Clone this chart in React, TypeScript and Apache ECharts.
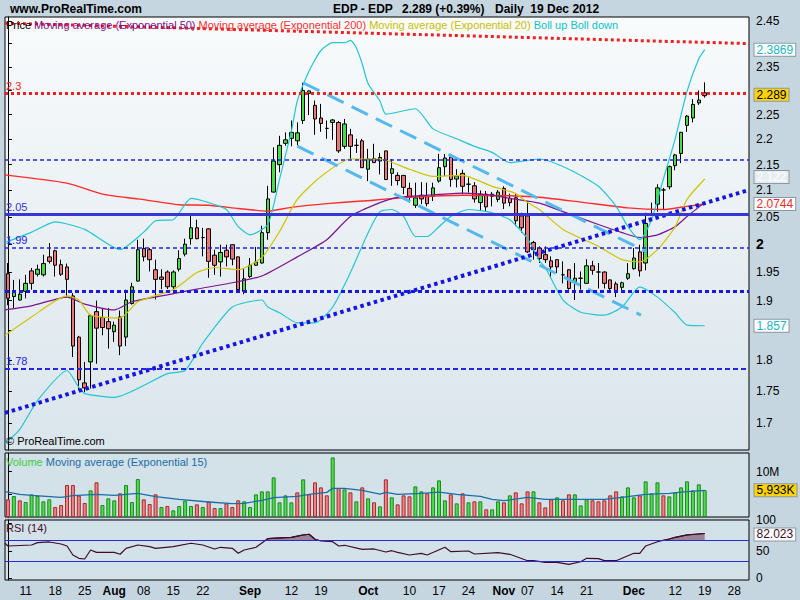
import React, { useEffect, useRef } from 'react';
import * as echarts from 'echarts';

const FONT = '"Liberation Sans", Arial, Helvetica, sans-serif';

// ---- Daily candles, EDP, 6 Jul 2012 .. 19 Dec 2012 (119 sessions) ----
const opens = [
  1.947, 1.907, 1.901, 1.916, 1.952, 1.946, 1.945, 1.977, 1.988, 1.963,
  1.959, 1.908, 1.838, 1.763, 1.797, 1.881, 1.871, 1.864, 1.847, 1.872,
  1.838, 1.895, 1.934, 1.992, 1.990, 1.954, 1.941, 1.950, 1.924, 1.955,
  1.982, 2.010, 2.030, 2.012, 2.028, 1.980, 1.968, 1.989, 1.999, 1.977,
  1.916, 1.942, 1.962, 1.966, 2.021, 2.097, 2.150, 2.192, 2.202, 2.197,
  2.238, 2.294, 2.269, 2.243, 2.222, 2.234, 2.234, 2.186, 2.209, 2.188,
  2.197, 2.141, 2.162, 2.157, 2.177, 2.133, 2.129, 2.129, 2.104, 2.072,
  2.091, 2.089, 2.089, 2.118, 2.146, 2.165, 2.122, 2.133, 2.112, 2.109,
  2.077, 2.093, 2.093, 2.083, 2.104, 2.085, 2.086, 2.052, 2.052, 2.003,
  1.993, 1.981, 1.970, 1.972, 1.945, 1.954, 1.933, 1.939, 1.930, 1.961,
  1.950, 1.950, 1.936, 1.929, 1.923, 1.939, 1.956, 1.986, 1.966, 2.055,
  2.074, 2.101, 2.107, 2.148, 2.172, 2.228, 2.243, 2.274, 2.295,
];
const highs = [
  1.966, 1.936, 1.937, 1.945, 1.957, 1.963, 1.981, 2.002, 1.990, 1.972,
  1.965, 1.913, 1.840, 1.797, 1.876, 1.900, 1.887, 1.887, 1.864, 1.883,
  1.919, 1.931, 2.008, 2.010, 1.993, 1.972, 1.955, 1.953, 1.953, 1.989,
  2.010, 2.055, 2.045, 2.030, 2.029, 1.990, 1.999, 1.999, 2.000, 1.978,
  1.956, 1.975, 1.995, 2.034, 2.109, 2.184, 2.207, 2.214, 2.238, 2.234,
  2.316, 2.300, 2.279, 2.272, 2.238, 2.241, 2.237, 2.241, 2.221, 2.201,
  2.201, 2.181, 2.191, 2.173, 2.177, 2.161, 2.135, 2.129, 2.115, 2.115,
  2.116, 2.115, 2.115, 2.171, 2.171, 2.165, 2.141, 2.140, 2.125, 2.116,
  2.100, 2.099, 2.097, 2.101, 2.108, 2.094, 2.093, 2.058, 2.080, 2.006,
  1.996, 1.996, 1.978, 1.972, 1.969, 1.955, 1.966, 1.951, 1.973, 1.970,
  1.966, 1.951, 1.937, 1.933, 1.933, 1.966, 1.993, 1.999, 2.058, 2.077,
  2.112, 2.105, 2.148, 2.171, 2.215, 2.249, 2.282, 2.300, 2.317,
];
const lows = [
  1.892, 1.887, 1.900, 1.904, 1.919, 1.942, 1.942, 1.965, 1.942, 1.943,
  1.907, 1.805, 1.751, 1.748, 1.754, 1.794, 1.841, 1.819, 1.830, 1.808,
  1.823, 1.893, 1.933, 1.969, 1.951, 1.902, 1.920, 1.920, 1.920, 1.951,
  1.978, 1.999, 2.009, 1.978, 1.940, 1.945, 1.942, 1.960, 1.962, 1.918,
  1.911, 1.939, 1.961, 1.965, 2.008, 2.096, 2.135, 2.187, 2.186, 2.188,
  2.231, 2.249, 2.209, 2.215, 2.201, 2.199, 2.173, 2.181, 2.161, 2.173,
  2.144, 2.118, 2.153, 2.131, 2.120, 2.109, 2.110, 2.093, 2.077, 2.067,
  2.074, 2.070, 2.080, 2.115, 2.128, 2.107, 2.106, 2.093, 2.096, 2.077,
  2.061, 2.061, 2.070, 2.078, 2.065, 2.070, 2.033, 2.021, 1.984, 1.972,
  1.966, 1.966, 1.939, 1.948, 1.930, 1.919, 1.901, 1.919, 1.930, 1.945,
  1.921, 1.921, 1.913, 1.906, 1.917, 1.936, 1.954, 1.942, 1.953, 2.052,
  2.060, 2.064, 2.102, 2.139, 2.153, 2.215, 2.234, 2.270, 2.285,
];
const closes = [
  1.904, 1.915, 1.911, 1.930, 1.930, 1.955, 1.965, 1.969, 1.962, 1.946,
  1.937, 1.823, 1.768, 1.755, 1.874, 1.853, 1.854, 1.852, 1.858, 1.823,
  1.901, 1.924, 1.990, 1.977, 1.972, 1.937, 1.937, 1.924, 1.950, 1.974,
  2.000, 2.030, 2.010, 2.012, 1.969, 1.962, 1.985, 1.977, 1.973, 1.919,
  1.938, 1.962, 1.968, 2.021, 2.084, 2.157, 2.188, 2.199, 2.214, 2.213,
  2.300, 2.299, 2.241, 2.232, 2.222, 2.239, 2.177, 2.231, 2.186, 2.188,
  2.144, 2.161, 2.154, 2.164, 2.121, 2.142, 2.119, 2.106, 2.087, 2.086,
  2.084, 2.075, 2.105, 2.144, 2.163, 2.121, 2.128, 2.108, 2.112, 2.084,
  2.093, 2.069, 2.089, 2.097, 2.076, 2.077, 2.043, 2.030, 1.986, 1.990,
  1.974, 1.972, 1.959, 1.959, 1.945, 1.921, 1.939, 1.939, 1.961, 1.953,
  1.950, 1.930, 1.921, 1.917, 1.931, 1.947, 1.975, 1.952, 2.038, 2.055,
  2.105, 2.101, 2.146, 2.169, 2.214, 2.247, 2.271, 2.280, 2.289,
];

// Volume in millions, and the colour of each volume bar (G up / R down)
const volumesM = [
  3.90, 4.63, 3.68, 3.31, 5.00, 4.63, 3.46, 3.90, 2.21, 2.65,
  7.06, 7.06, 4.71, 3.09, 5.88, 7.65, 2.65, 4.12, 3.68, 5.22,
  7.06, 3.31, 8.38, 3.90, 2.87, 5.00, 2.21, 2.43, 1.47, 2.43,
  3.60, 2.43, 2.79, 2.21, 3.46, 1.99, 1.99, 3.01, 2.21, 3.68,
  3.46, 2.21, 5.00, 5.66, 5.66, 8.75, 3.24, 4.78, 3.24, 5.44,
  8.31, 5.00, 7.65, 6.54, 4.78, 13.16, 6.40, 6.10, 5.44, 3.46,
  6.54, 4.12, 3.24, 2.35, 8.31, 4.34, 2.79, 4.78, 4.56, 6.76,
  5.66, 5.22, 6.54, 8.09, 3.68, 5.00, 3.01, 5.22, 3.24, 3.46,
  3.46, 1.69, 1.69, 3.46, 3.24, 4.78, 5.44, 3.01, 5.66, 5.66,
  3.24, 2.13, 3.90, 4.34, 3.68, 5.00, 5.00, 2.57, 3.90, 3.68,
  3.46, 3.68, 4.78, 5.66, 4.56, 6.54, 4.34, 4.78, 7.87, 5.22,
  7.65, 4.78, 4.56, 5.44, 6.54, 7.87, 5.88, 7.21, 5.933,
];
const volumeDir =
  'RGRGGGGGRRRRRRGRGGGRGGGRRRGRGGGGRGRRGRRRG' +
  'GGGGGGGGRG' + 'RRRRGRGRGR' + 'GRGRGRRRGG' + 'RGGGRGRGRG' + 'RG' +
  'GRGRRRGRRR' + 'GRRGGGRRRR' + 'RGGGRGGGRG' + 'GGGGGG';

// Indicators: [session index, value]
const ema50 = [
  [-0.5, 1.884], [4, 1.891], [10, 1.906], [13, 1.894], [18, 1.884], [21, 1.898], [27, 1.910],
  [32, 1.920], [38, 1.931], [43, 1.943], [49, 1.977], [54, 2.008], [58, 2.051], [63, 2.077],
  [66, 2.087], [71, 2.091], [77, 2.095], [82, 2.091], [85, 2.085], [90, 2.076], [94, 2.060],
  [100, 2.036], [104, 2.021], [107, 2.012], [110, 2.017], [113, 2.032], [115, 2.051], [118, 2.077],
];
const ema200 = [
  [-0.5, 2.130], [10, 2.114], [16, 2.093], [22, 2.084], [29, 2.073], [34, 2.072], [39, 2.066],
  [44, 2.061], [48, 2.068], [54, 2.075], [60, 2.080], [68, 2.087], [77, 2.091], [89, 2.088],
  [97, 2.078], [105, 2.067], [111, 2.064], [115, 2.070], [118, 2.0744],
];
const ema20 = [
  [-0.5, 1.841], [4, 1.872], [10, 1.908], [12, 1.901], [14, 1.875], [19, 1.870], [22, 1.898],
  [28, 1.919], [32, 1.949], [35, 1.958], [39, 1.954], [43, 1.976], [46, 2.023], [49, 2.083],
  [53, 2.127], [58, 2.161], [63, 2.161], [68, 2.141], [72, 2.127], [77, 2.129], [82, 2.108],
  [86, 2.094], [88, 2.077], [90, 2.064], [94, 2.027], [100, 1.996], [104, 1.972], [107, 1.968],
  [110, 1.990], [113, 2.032], [115, 2.083], [118, 2.122],
];
const bollUp = [
  [-0.5, 2.003], [4, 2.022], [8, 2.041], [13, 2.027], [19, 1.990], [23, 2.022], [25, 2.043],
  [28, 2.045], [31, 2.085], [34, 2.077], [37, 2.064], [39, 2.032], [41, 2.017], [44, 2.036],
  [46, 2.122], [48, 2.217], [49, 2.278], [51, 2.341], [53, 2.385], [55, 2.402], [57, 2.402],
  [58, 2.407], [59, 2.391], [60, 2.356], [61, 2.314], [63, 2.278], [64, 2.251], [69, 2.262],
  [72, 2.221], [76, 2.201], [79, 2.186], [82, 2.174], [85, 2.154], [90, 2.161], [95, 2.141],
  [100, 2.108], [103, 2.070], [105, 2.032], [107, 2.008], [109, 2.045], [111, 2.122],
  [113, 2.201], [115, 2.298], [117, 2.367], [118, 2.3869],
];
const bollDown = [
  [-0.5, 1.668], [2, 1.690], [5, 1.735], [10, 1.783], [12, 1.756], [13, 1.746], [18, 1.740],
  [27, 1.778], [30, 1.783], [33, 1.828], [38, 1.889], [43, 1.901], [44, 1.889], [46, 1.879],
  [49, 1.862], [52, 1.862], [55, 1.889], [58, 1.949], [61, 2.021], [63, 2.060], [65, 2.064],
  [67, 2.051], [69, 2.014], [71, 2.014], [73, 2.032], [75, 2.051], [78, 2.064], [82, 2.058],
  [85, 2.045], [88, 2.010], [90, 1.970], [91, 1.958], [94, 1.901], [97, 1.880], [101, 1.875],
  [104, 1.889], [107, 1.924], [110, 1.906], [113, 1.879], [115, 1.858], [118, 1.857],
];
const volEma15 = [
  [-0.5, 5.59], [2, 5.0], [4, 4.78], [9, 4.34], [11, 4.71], [15, 5.0], [18, 4.78], [22, 5.22],
  [25, 4.49], [29, 3.90], [34, 3.31], [38, 2.94], [40, 3.0], [43, 3.68], [45, 4.26], [49, 4.56],
  [51, 5.0], [54, 5.44], [55, 6.32], [57, 6.32], [60, 5.88], [63, 5.07], [64, 5.44], [66, 5.0],
  [70, 5.22], [73, 5.51], [76, 5.0], [80, 4.56], [82, 3.90], [84, 3.60], [88, 4.34], [91, 3.90],
  [96, 3.90], [101, 3.90], [104, 4.34], [108, 5.0], [112, 5.22], [114, 5.51], [118, 5.88],
];
const rsi14 = [
  [-0.5, 64], [0, 59], [4, 60.8], [5, 65.1], [7, 66.4], [9, 62.7], [10, 59], [11, 42.4], [12, 36.3],
  [13, 35], [14, 51.6], [15, 47.3], [18, 47.3], [19, 43.7], [20, 54.7], [22, 60.8], [24, 57.7],
  [25, 54.7], [28, 57.7], [31, 64], [33, 60.8], [35, 53.5], [36, 56.6], [38, 54.7], [39, 45.5],
  [40, 51.6], [42, 56.6], [44, 72.5], [47, 74.3], [48, 75], [50, 79.3], [51, 80.6], [52, 71.3],
  [53, 68.2], [55, 66.9], [56, 59], [57, 60.3], [60, 52.9], [62, 53.5], [64, 47.9], [65, 50.3],
  [66, 47.3], [68, 42.4], [70, 45.5], [71, 42.4], [74, 56.6], [75, 48.5], [78, 49.8], [79, 44.2],
  [83, 46.7], [85, 43.7], [88, 31.9], [89, 31.9], [91, 28.9], [93, 28.9], [95, 25.2], [97, 30],
  [98, 36.3], [100, 35.6], [101, 31.9], [103, 31.9], [106, 45.5], [107, 45.5], [108, 59],
  [110, 66.9], [112, 71.9], [113, 75], [115, 79.3], [118, 82.023],
];

// Drawn annotations: horizontal levels and trend lines [session index, price]
const levels = [2.3, 2.17, 2.05, 1.99, 1.92, 1.78];
const levelLabels = ['2.3', '', '2.05', '1.99', '', '1.78'];
const supportLine = [[-0.5, 1.7155], [125.3, 2.1004]];
const resistanceLine = [[-0.5, 2.445], [125.5, 2.400]];
const channelUpper = [[50, 2.316], [108.2, 1.986]];
const channelLower = [[49, 2.1865], [107.2, 1.875]];

// Last values shown in the right-hand tags
const lastClose = 2.289;
const lastBollUp = 2.3869;
const lastEma20 = 2.122;
const lastEma200 = 2.0744;
const lastBollDown = 1.857;
const lastVolumeK = 5933;
const lastRsi = 82.023;

// Axis ticks (labels that the tags cover in the reference are not listed)
const priceTicks = [1.7, 1.75, 1.8, 1.85, 1.9, 1.95, 2, 2.05, 2.1, 2.15, 2.2, 2.25, 2.3, 2.35, 2.4, 2.45];
const priceLabelTicks = [1.7, 1.75, 1.8, 1.9, 1.95, 2, 2.05, 2.1, 2.15, 2.2, 2.25, 2.35, 2.45];
const volumeTicks = [5, 10];
const volumeLabelTicks = [10];
const rsiTicks = [0, 50, 100];
const rsiLevels = [70, 30];
const xLabels: [string, string][] = [
  ['2012-07-11', '11'], ['2012-07-18', '18'], ['2012-07-25', '25'], ['2012-08-01', 'Aug'],
  ['2012-08-08', '08'], ['2012-08-15', '15'], ['2012-08-22', '22'], ['2012-09-03', 'Sep'],
  ['2012-09-12', '12'], ['2012-09-19', '19'], ['2012-10-01', 'Oct'], ['2012-10-10', '10'],
  ['2012-10-17', '17'], ['2012-10-24', '24'], ['2012-11-01', 'Nov'], ['2012-11-07', '07'],
  ['2012-11-14', '14'], ['2012-11-21', '21'], ['2012-12-03', 'Dec'], ['2012-12-12', '12'],
  ['2012-12-19', '19'], ['2012-12-28', '28'],
];

function tradingDays(): string[] {
  const out: string[] = [];
  const closed = new Set(['2012-12-25', '2012-12-26', '2013-01-01']);
  const d = new Date(Date.UTC(2012, 6, 6));
  const end = Date.UTC(2013, 0, 2);
  while (d.getTime() <= end) {
    const wd = d.getUTCDay();
    const s = d.toISOString().slice(0, 10);
    if (wd !== 0 && wd !== 6 && !closed.has(s)) out.push(s);
    d.setUTCDate(d.getUTCDate() + 1);
  }
  return out;
}

const ln = (p: number) => Math.log(p);
const toLn = (pts: number[][]) => pts.map(([i, p]) => [i, Math.log(p)]);

const GRID_L = 5;
const GRID_R = 51;
const X_MIN = -0.5;
const X_MAX = 125.5;
const P_MIN = 0.50602;
const P_MAX = 0.89966;

function buildOption() {
  const days = tradingDays();
  const labelMap = new Map(xLabels);

  const tag = (x: number, y: number, text: string, color: string, bg: string, dy = 0) => ({
    coord: [x, y],
    symbol: 'rect',
    symbolSize: 1,
    itemStyle: { color: 'rgba(0,0,0,0)' },
    label: {
      show: true, position: 'right', distance: 5, formatter: text, color, offset: [0, dy],
      backgroundColor: bg, borderColor: '#8a98a2', borderWidth: 1,
      padding: [0, 2, 0, 2], fontSize: 12, fontFamily: FONT, lineHeight: 12,
    },
  });

  const line = (data: number[][], color: string, width: number, xi: number, yi: number, extra: any = {}) => ({
    type: 'line', data, xAxisIndex: xi, yAxisIndex: yi, symbol: 'none', showSymbol: false,
    smooth: 0.2, silent: true, lineStyle: { color, width }, z: 3, ...extra,
  });

  const levelStyles: any[] = [
    { color: '#ee2020', width: 3, type: [3, 3] },
    { color: '#2424e6', width: 1.5, type: [4, 3] },
    { color: '#3636d6', width: 3, type: 'solid' },
    { color: '#2424e6', width: 1.5, type: [4, 3] },
    { color: '#1818e4', width: 3, type: [4, 3] },
    { color: '#2424e6', width: 2, type: [5, 3] },
  ];

  const grids = [
    { left: GRID_L, right: GRID_R, top: 17, height: 433 },
    { left: GRID_L, right: GRID_R, top: 453, height: 64 },
    { left: GRID_L, right: GRID_R, top: 520, height: 60 },
    { left: GRID_L, right: GRID_R, top: 520, height: 20 },
  ].map((g, k) => ({
    ...g,
    show: k < 3,
    borderColor: '#000',
    borderWidth: 1,
    outerBoundsMode: 'none',
    containLabel: false,
    backgroundColor: k === 0
      ? { type: 'linear', x: 0, y: 0, x2: 0, y2: 1, colorStops: [{ offset: 0, color: '#f9fbfc' }, { offset: 1, color: '#dae5ec' }] }
      : k < 3 ? '#d3e1e9' : 'transparent',
  }));

  const hiddenCat = (gi: number) => ({ type: 'category', gridIndex: gi, data: days, boundaryGap: true, show: false });
  const hiddenVal = (gi: number) => ({ type: 'value', gridIndex: gi, min: X_MIN, max: X_MAX, show: false });

  const xAxis = [
    hiddenCat(0), hiddenVal(0),
    hiddenCat(1), hiddenVal(1),
    {
      type: 'category', gridIndex: 2, data: days, boundaryGap: true,
      axisLine: { show: false }, axisTick: { show: false },
      axisLabel: {
        interval: (_i: number, v: string) => labelMap.has(v),
        formatter: (v: string) => {
          const t = labelMap.get(v) || '';
          return /[A-Z]/.test(t) ? `{m|${t}}` : t;
        },
        color: '#000', fontSize: 12, fontFamily: FONT, margin: 5,
        rich: { m: { fontWeight: 'bold', fontSize: 12, color: '#000', fontFamily: FONT } },
      },
    },
    hiddenVal(2), hiddenVal(3),
  ];

  const rightAxisCommon = {
    position: 'right',
    axisLine: { show: true, lineStyle: { color: '#000', width: 1 } },
    splitLine: { show: false },
  };

  const yAxis = [
    {
      ...rightAxisCommon, type: 'value', gridIndex: 0, min: P_MIN, max: P_MAX,
      axisTick: { show: true, length: 4, lineStyle: { color: '#000' }, customValues: priceTicks.map(ln) },
      axisLabel: {
        customValues: priceLabelTicks.map(ln), color: '#000', fontSize: 12, fontFamily: FONT, margin: 7,
        formatter: (v: number) => {
          const p = Math.round(Math.exp(v) * 100) / 100;
          return p === 2 ? '{b|2}' : String(p);
        },
        rich: { b: { fontWeight: 'bold', fontSize: 14, color: '#000', fontFamily: FONT } },
      },
    },
    {
      ...rightAxisCommon, type: 'value', gridIndex: 1, min: 0, max: 14.13,
      axisTick: { show: true, length: 4, lineStyle: { color: '#000' }, customValues: volumeTicks },
      axisLabel: { customValues: volumeLabelTicks, formatter: (v: number) => `${v}M`, color: '#000', fontSize: 12, fontFamily: FONT, margin: 7 },
    },
    {
      ...rightAxisCommon, type: 'value', gridIndex: 2, min: -3.69, max: 106.9,
      axisTick: { show: true, length: 4, lineStyle: { color: '#000' }, customValues: rsiTicks },
      axisLabel: {
        customValues: rsiTicks, color: '#000', fontSize: 12, fontFamily: FONT, margin: 7,
        formatter: (v: number) => (v === 100 ? '{t|100}' : String(v)),
        rich: { t: { fontSize: 12, color: '#000', fontFamily: FONT, padding: [0, 0, 7, 0] } },
      },
    },
    { type: 'value', gridIndex: 3, min: 70, max: 106.9, show: false },
  ];

  const candleData = opens.map((o, i) => [ln(o), ln(closes[i]), ln(lows[i]), ln(highs[i])]);

  const series: any[] = [
    {
      type: 'candlestick', xAxisIndex: 0, yAxisIndex: 0, data: candleData, barWidth: 4, z: 2, silent: true,
      itemStyle: { color: '#44dd44', color0: '#f07474', borderColor: '#000', borderColor0: '#000', borderWidth: 1 },
      markLine: {
        silent: true, symbol: 'none', animation: false,
        data: levels.map((v, k) => ({
          yAxis: ln(v),
          lineStyle: levelStyles[k],
          label: {
            show: levelLabels[k] !== '', formatter: levelLabels[k], position: 'insideStartTop',
            color: levelStyles[k].color, fontSize: 11, fontFamily: FONT, distance: [1, 2],
          },
        })),
      },
    },
    line(toLn(ema200), '#ff2a2a', 1.4, 1, 0),
    line(toLn(ema50), '#7a1490', 1.2, 1, 0),
    line(toLn(ema20), '#cfc400', 1.2, 1, 0),
    line(toLn(bollUp), '#22c6d4', 1.2, 1, 0, {
      markPoint: {
        silent: true, animation: false,
        data: [
          tag(X_MAX, ln(lastBollUp), String(lastBollUp), '#18b4c4', '#ffffff'),
          tag(X_MAX, ln(lastClose), String(lastClose), '#000000', '#ffd400', -1),
          tag(X_MAX, ln(lastEma20), String(lastEma20), '#ffffff', '#e6edf1', -2),
          tag(X_MAX, ln(lastEma200), String(lastEma200), '#ee2a2a', '#ffffff'),
          tag(X_MAX, ln(lastBollDown), String(lastBollDown), '#18b4c4', '#ffffff'),
        ],
      },
    }),
    line(toLn(bollDown), '#22c6d4', 1.2, 1, 0),
    line(toLn(resistanceLine), '#ee2020', 3, 1, 0, { smooth: false, lineStyle: { color: '#ee2020', width: 3, type: [3, 3] } }),
    line(toLn(channelUpper), '#55b8ee', 3, 1, 0, { smooth: false, z: 4, lineStyle: { color: '#55b8ee', width: 3, type: [18, 9] } }),
    line(toLn(channelLower), '#55b8ee', 3, 1, 0, { smooth: false, z: 4, lineStyle: { color: '#55b8ee', width: 3, type: [18, 9] } }),
    line(toLn(supportLine), '#1414e4', 4, 1, 0, { smooth: false, z: 4, lineStyle: { color: '#1414e4', width: 4, type: [3.5, 3.5] } }),
    {
      type: 'bar', xAxisIndex: 2, yAxisIndex: 1, barWidth: 4, silent: true,
      data: volumesM.map((v, i) => ({
        value: v,
        itemStyle: volumeDir[i] === 'G'
          ? { color: '#4cdc4c', borderColor: '#1e8a1e', borderWidth: 1 }
          : { color: '#f08484', borderColor: '#a82a2a', borderWidth: 1 },
      })),
    },
    line(volEma15, '#1a6ea6', 1.3, 3, 1, {
      smooth: false,
      markPoint: {
        silent: true, animation: false,
        data: [tag(X_MAX, lastVolumeK / 1000, lastVolumeK.toLocaleString('en-US') + 'K', '#000000', '#ffd400')],
      },
    }),
    line(rsi14, '#3e0c2c', 1.2, 5, 2, {
      smooth: false,
      markLine: {
        silent: true, symbol: 'none', animation: false, label: { show: false },
        data: rsiLevels.map((v) => ({ yAxis: v, lineStyle: { color: '#2a2ad8', width: 1, type: 'solid' } })),
      },
      markPoint: {
        silent: true, animation: false,
        data: [tag(X_MAX, lastRsi, String(lastRsi), '#3e0c2c', '#ffffff', 1)],
      },
    }),
    line(rsi14, '#3e0c2c', 1.2, 6, 3, { smooth: false, z: 2, areaStyle: { color: '#9c8494', origin: 'start', opacity: 1 } }),
  ];

  const txt = (x: number, y: number, text: string, font: string, fill: string) => ({
    type: 'text', x, y, silent: true, z: 10,
    style: { text, font, fill, verticalAlign: 'middle', align: 'left' },
  });
  const f11 = `11px ${FONT}`;

  const graphic = [
    txt(10, 9, 'www.ProRealTime.com', `bold 12px ${FONT}`, '#000'),
    txt(333, 9, 'EDP - EDP', `bold 12px ${FONT}`, '#000'),
    txt(402, 9, '2.289 (+0.39%)', `bold 12px ${FONT}`, '#000'),
    txt(495, 9, 'Daily  19 Dec 2012', `bold 12px ${FONT}`, '#000'),
    {
      type: 'text', x: 6, y: 25, silent: true, z: 10,
      style: {
        text: '{k|Price }{p|Moving average (Exponential 50) }{r|Moving average (Exponential 200) }{y|Moving average (Exponential 20) }{c|Boll up Boll down}',
        font: f11, verticalAlign: 'middle', align: 'left',
        rich: {
          k: { fill: '#000000', fontSize: 11, fontFamily: FONT },
          p: { fill: '#7a1490', fontSize: 11, fontFamily: FONT },
          r: { fill: '#ff3030', fontSize: 11, fontFamily: FONT },
          y: { fill: '#c8c000', fontSize: 11, fontFamily: FONT },
          c: { fill: '#10c0c8', fontSize: 11, fontFamily: FONT },
        },
      },
    },
    txt(6, 441, '\u00a9 ProRealTime.com', f11, '#000'),
    {
      type: 'text', x: 6, y: 462, silent: true, z: 10,
      style: {
        text: '{g|Volume }{b|Moving average (Exponential 15)}',
        font: f11, verticalAlign: 'middle', align: 'left',
        rich: {
          g: { fill: '#3ccc3c', fontSize: 11, fontFamily: FONT },
          b: { fill: '#1a6ea6', fontSize: 11, fontFamily: FONT },
        },
      },
    },
    txt(6, 528, 'RSI (14)', f11, '#40102a'),
  ];

  return {
    animation: false,
    backgroundColor: '#c6d6e0',
    textStyle: { fontFamily: FONT },
    grid: grids,
    xAxis,
    yAxis,
    series,
    graphic,
  };
}

export default function App() {
  const ref = useRef<HTMLDivElement>(null);
  useEffect(() => {
    if (!ref.current) return;
    const chart = echarts.init(ref.current, undefined, { renderer: 'svg' });
    chart.setOption(buildOption() as any);
    return () => chart.dispose();
  }, []);
  return <div ref={ref} style={{ position: 'fixed', left: 0, top: 0, width: 800, height: 600 }} />;
}
